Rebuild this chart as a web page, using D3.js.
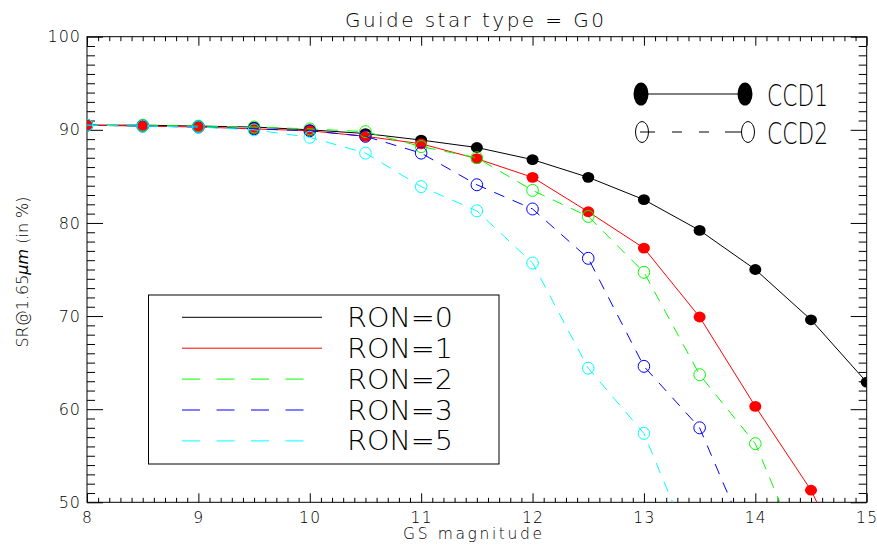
<!DOCTYPE html>
<html><head><meta charset="utf-8">
<script src="https://cdn.jsdelivr.net/npm/d3@7"></script>
<style>
html,body{margin:0;padding:0;background:#fff;}
text{font-family:"DejaVu Sans",sans-serif;font-weight:200;fill:#000;}
</style></head>
<body><svg id="c" width="877" height="552"></svg>
<script>
// ---- data ----
const magnitudes = [8, 8.5, 9, 9.5, 10, 10.5, 11, 11.5, 12, 12.5, 13, 13.5, 14, 14.5, 15];
const ron0 = [90.5, 90.5, 90.4, 90.3, 90.0, 89.6, 88.9, 88.1, 86.8, 84.9, 82.5, 79.2, 75.0, 69.6, 62.9];
const ron1 = [90.5, 90.4, 90.3, 90.1, 89.9, 89.3, 88.5, 86.9, 84.9, 81.2, 77.3, 69.9, 60.3, 51.3, 39.0];
const ron2 = [90.5, 90.5, 90.4, 90.3, 90.1, 89.8, 88.2, 87.0, 83.5, 80.7, 74.7, 63.7, 56.3, 42.0, null];
const ron3 = [90.5, 90.4, 90.3, 90.1, 89.9, 89.3, 87.5, 84.1, 81.5, 76.2, 64.6, 58.0, 44.0, null, null];
const ron5 = [90.5, 90.4, 90.3, 90.0, 89.2, 87.5, 83.9, 81.3, 75.7, 64.4, 57.4, 43.0, null, null, null];
const seriesNames = ["RON=0", "RON=1", "RON=2", "RON=3", "RON=5"];
const seriesColors = ["#000000", "#ff0000", "#00ff00", "#0000ff", "#00ffff"];
const seriesCCD = [1, 1, 2, 2, 2];
const xTicks = [8, 9, 10, 11, 12, 13, 14, 15];
const yTicks = [50, 60, 70, 80, 90, 100];
const title = "Guide star type = G0";
const xTitle = "GS magnitude";

const seriesValues = [ron0, ron1, ron2, ron3, ron5];

const svg = d3.select("#c");
const L = 87, R = 866.7, T = 36.7, B = 502.3;
const x = d3.scaleLinear().domain([8, 15]).range([L, R]);
const y = d3.scaleLinear().domain([50, 100]).range([B, T]);

svg.append("defs").append("clipPath").attr("id", "clip")
  .append("rect").attr("x", L).attr("y", T).attr("width", R - L).attr("height", B - T);

// minor ticks
const xMinor = d3.range(80, 151).map(v => v / 10).filter(v => Math.abs(v - Math.round(v)) > 1e-6);
const yMinor = d3.range(50, 101).filter(v => v % 10 !== 0);

function axisG(gen, tr) {
  const g = svg.append("g").attr("transform", tr).call(gen);
  g.select(".domain").remove();
  g.selectAll("line").attr("stroke", "#000").attr("stroke-width", 1);
  g.selectAll("text").attr("fill", "#000");
  return g;
}
// bottom
const gxb = axisG(d3.axisBottom(x).tickValues(xTicks).tickSize(-9).tickPadding(10).tickFormat(d3.format("d")), `translate(0,${B})`);
gxb.selectAll("text").attr("font-size", 15.5).attr("dy", "0.71em").attr("letter-spacing", 1.3).style("font-family", "DejaVu Sans").style("font-weight", 200);
axisG(d3.axisBottom(x).tickValues(xMinor).tickSize(-4.5).tickFormat(""), `translate(0,${B})`);
// top
axisG(d3.axisTop(x).tickValues(xTicks).tickSize(-9).tickFormat(""), `translate(0,${T})`);
axisG(d3.axisTop(x).tickValues(xMinor).tickSize(-4.5).tickFormat(""), `translate(0,${T})`);
// left
const gyl = axisG(d3.axisLeft(y).tickValues(yTicks).tickSize(-16).tickPadding(6).tickFormat(d3.format("d")), `translate(${L},0)`);
gyl.selectAll("text").attr("font-size", 16).attr("letter-spacing", 1).style("font-family", "DejaVu Sans").style("font-weight", 200);
axisG(d3.axisLeft(y).tickValues(yMinor).tickSize(-8).tickFormat(""), `translate(${L},0)`);
// right
axisG(d3.axisRight(y).tickValues(yTicks).tickSize(-16).tickFormat(""), `translate(${R},0)`);
axisG(d3.axisRight(y).tickValues(yMinor).tickSize(-8).tickFormat(""), `translate(${R},0)`);

svg.append("rect").attr("x", L).attr("y", T).attr("width", R - L).attr("height", B - T)
  .attr("fill", "none").attr("stroke", "#000").attr("stroke-width", 1);

// data
const plot = svg.append("g").attr("clip-path", "url(#clip)");
const line = d3.line().defined(d => d[1] !== null).x(d => x(d[0])).y(d => y(d[1]));
seriesValues.forEach((vals, i) => {
  const pts = magnitudes.map((m, j) => [m, vals[j]]);
  const col = seriesColors[i];
  plot.append("path").attr("d", line(pts)).attr("fill", "none").attr("stroke", col)
    .attr("stroke-width", 1).attr("stroke-dasharray", seriesCCD[i] === 2 ? "11,9" : null);
  const p = pts.filter(d => d[1] !== null);
  if (seriesCCD[i] === 1) {
    plot.selectAll(null).data(p).enter().append("ellipse")
      .attr("cx", d => x(d[0])).attr("cy", d => y(d[1])).attr("rx", 6).attr("ry", 5.4)
      .attr("fill", col);
  } else {
    plot.selectAll(null).data(p).enter().append("ellipse")
      .attr("cx", d => x(d[0])).attr("cy", d => y(d[1])).attr("rx", 5.8).attr("ry", 6)
      .attr("fill", "none").attr("stroke", col).attr("stroke-width", 1);
  }
});

// title
svg.append("text").attr("x", 474.5).attr("y", 27.3).attr("text-anchor", "middle")
  .attr("font-size", 20).attr("textLength", 259).attr("lengthAdjust", "spacing").text(title);
// x title
svg.append("text").attr("x", 472.5).attr("y", 539).attr("text-anchor", "middle")
  .attr("font-size", 15.5).attr("textLength", 139).attr("lengthAdjust", "spacing").text(xTitle);
// y title
const yt = svg.append("text").attr("transform", "translate(27.5,272) rotate(-90)")
  .attr("text-anchor", "middle").attr("font-size", 16);
yt.append("tspan").text("SR@1.65");
yt.append("tspan").attr("font-style", "italic").text("μm");
yt.append("tspan").text(" (in %)");

// RON legend
const lg = svg.append("g");
lg.append("rect").attr("x", 148.5).attr("y", 295).attr("width", 350.5).attr("height", 169)
  .attr("fill", "#fff").attr("stroke", "#000").attr("stroke-width", 1);
seriesNames.forEach((name, i) => {
  const ly = 317.3 + i * 30.9;
  lg.append("line").attr("x1", 182).attr("x2", seriesCCD[i] === 2 ? 305 : 322).attr("y1", ly).attr("y2", ly)
    .attr("stroke", seriesColors[i]).attr("stroke-width", 1)
    .attr("stroke-dasharray", seriesCCD[i] === 2 ? "18,16.5" : null);
  lg.append("text").attr("x", 347).attr("y", ly + 9.5).attr("font-size", 27)
    .attr("textLength", 106).attr("lengthAdjust", "spacingAndGlyphs").text(name);
});

// CCD legend
const cg = svg.append("g");
const ccdRows = [{label: "CCD1", y: 94, x1: 641, x2: 745}, {label: "CCD2", y: 132, x1: 642, x2: 748}];
cg.append("line").attr("x1", ccdRows[0].x1).attr("x2", ccdRows[0].x2).attr("y1", ccdRows[0].y).attr("y2", ccdRows[0].y)
  .attr("stroke", "#000").attr("stroke-width", 1);
[ccdRows[0].x1, ccdRows[0].x2].forEach(cx => cg.append("ellipse").attr("cx", cx).attr("cy", ccdRows[0].y)
  .attr("rx", 7.5).attr("ry", 11.5).attr("fill", "#000"));
cg.append("line").attr("x1", ccdRows[1].x1 - 2).attr("x2", ccdRows[1].x2).attr("y1", ccdRows[1].y).attr("y2", ccdRows[1].y)
  .attr("stroke", "#000").attr("stroke-width", 1).attr("stroke-dasharray", "15,17,10,17,10,16,17,100");
[ccdRows[1].x1, ccdRows[1].x2].forEach((cx, k) => cg.append("ellipse").attr("cx", cx).attr("cy", ccdRows[1].y)
  .attr("rx", 6.5).attr("ry", 10.5).attr("fill", k === 0 ? "none" : "#fff").attr("stroke", "#000").attr("stroke-width", 1));
ccdRows.forEach(r => cg.append("text").attr("x", 767).attr("y", r.y + 11.5).attr("font-size", 31)
  .attr("textLength", 61).attr("lengthAdjust", "spacingAndGlyphs").text(r.label));
</script></body></html>
